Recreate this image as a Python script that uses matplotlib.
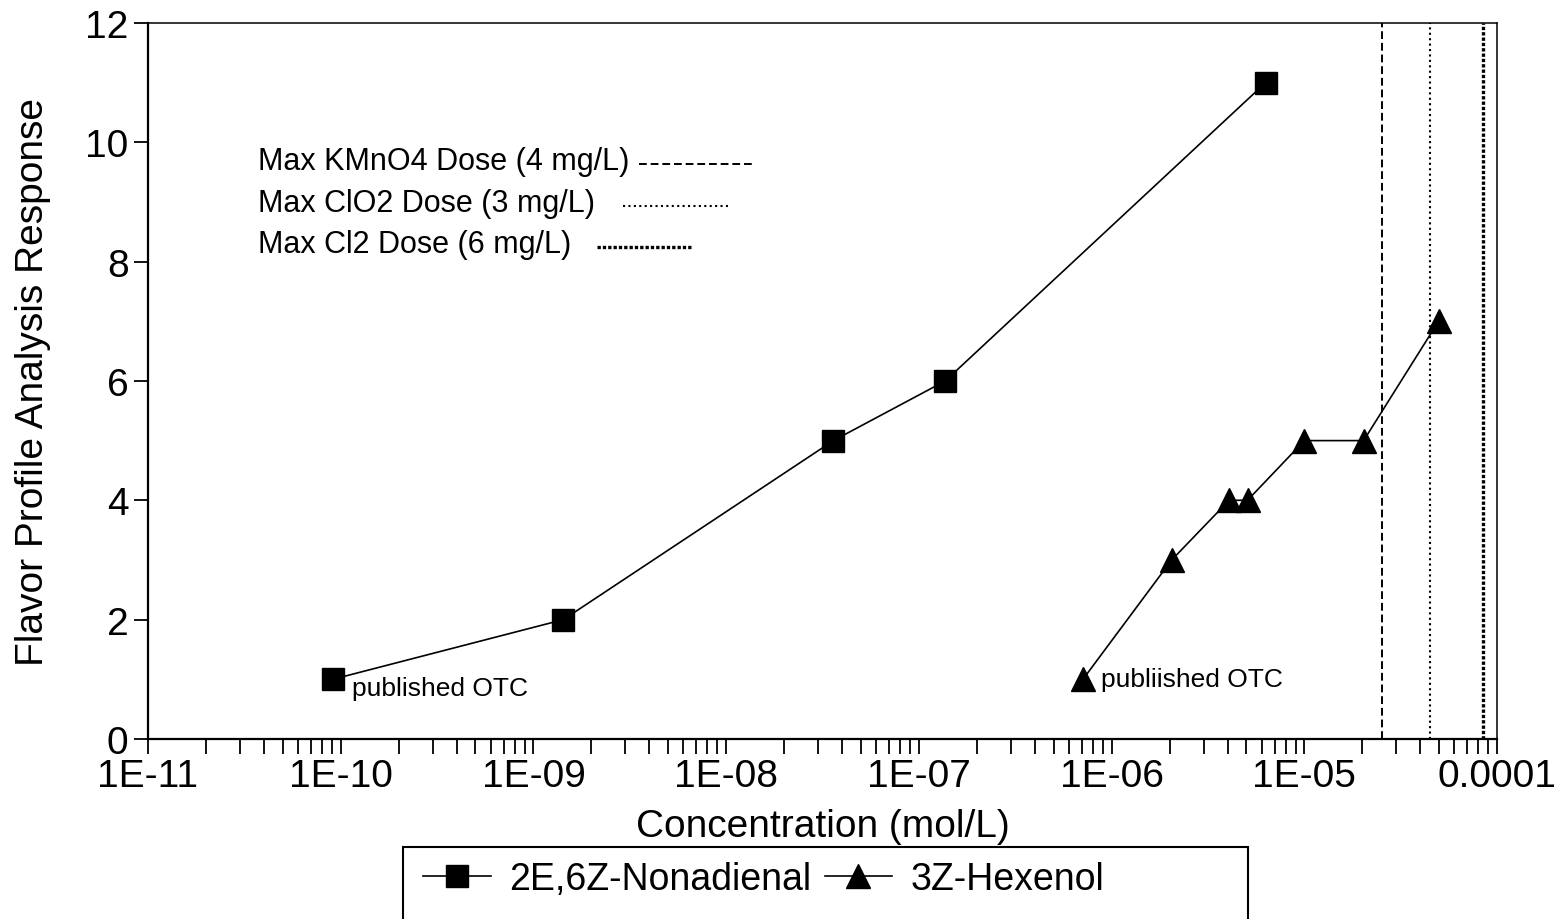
import numpy as np
import matplotlib.pyplot as plt
import matplotlib as mpl
from matplotlib.lines import Line2D
from matplotlib.patches import Rectangle

plt.rcParams['font.family'] = ['Liberation Sans', 'DejaVu Sans']

# data
nonadienal_conc = [9.1e-11, 1.43e-9, 3.6e-8, 1.37e-7, 6.3e-6]
nonadienal_fpa = [1, 2, 5, 6, 11]
hexenol_conc = [7.1e-7, 2.05e-6, 4.07e-6, 5.07e-6, 1.0e-5, 2.03e-5, 4.97e-5]
hexenol_fpa = [1, 3, 4, 4, 5, 5, 7]

dose_labels = ['Max KMnO4 Dose (4 mg/L)', 'Max ClO2 Dose (3 mg/L)', 'Max Cl2 Dose (6 mg/L)']
dose_conc = [2.52e-5, 4.5e-5, 8.43e-5]

xtick_vals = [1e-11, 1e-10, 1e-9, 1e-8, 1e-7, 1e-6, 1e-5, 1e-4]
xtick_labels = ['1E-11', '1E-10', '1E-09', '1E-08', '1E-07', '1E-06', '1E-05', '0.0001']

# line styles for the three dose markers
dose_styles = [
    dict(linestyle=(0, (4, 2)), linewidth=1.4),
    dict(linestyle=(0, (1, 1.6)), linewidth=1.5),
    dict(linestyle=(0, (1, 0.6)), linewidth=2.4),
]

fig = plt.figure(figsize=(15.66, 9.2), dpi=100)
ax = fig.add_axes([0.0945, 0.1957, 0.8615, 0.7783])

ax.plot(nonadienal_conc, nonadienal_fpa, color='black', lw=1.2,
        marker='s', ms=16, label='2E,6Z-Nonadienal')
ax.plot(hexenol_conc, hexenol_fpa, color='black', lw=1.2,
        marker='^', ms=17, label='3Z-Hexenol')

for c, st in zip(dose_conc, dose_styles):
    ax.plot([c, c], [0, 12], color='black', **st)

ax.set_xscale('log')
ax.set_xlim(1e-11, 1e-4)
ax.set_ylim(0, 12)

ax.xaxis.set_major_locator(mpl.ticker.FixedLocator(xtick_vals))
ax.xaxis.set_major_formatter(mpl.ticker.FixedFormatter(xtick_labels))
ax.xaxis.set_minor_locator(mpl.ticker.LogLocator(base=10, subs=np.arange(2, 10), numticks=20))
ax.xaxis.set_minor_formatter(mpl.ticker.NullFormatter())
ax.yaxis.set_major_locator(mpl.ticker.MultipleLocator(2))

ax.tick_params(axis='x', which='both', direction='out', length=11, width=1.3,
               labelsize=28, pad=3)
ax.tick_params(axis='y', which='major', direction='out', length=10, width=1.3,
               labelsize=28, pad=4)

for side in ['left', 'bottom']:
    ax.spines[side].set_linewidth(1.6)
for side in ['top', 'right']:
    ax.spines[side].set_linewidth(1.1)

ax.set_xlabel('Concentration (mol/L)', fontsize=28, labelpad=10)
ax.set_ylabel('Flavor Profile Analysis Response', fontsize=28)
ax.yaxis.set_label_coords(-0.072, 0.5)

# published OTC notes
ax.annotate('published OTC', xy=(nonadienal_conc[0], nonadienal_fpa[0]),
            xytext=(14, -6), textcoords='offset points', fontsize=19, va='center')
ax.annotate('publiished OTC', xy=(hexenol_conc[0], hexenol_fpa[0]),
            xytext=(13, 0), textcoords='offset points', fontsize=19, va='center')

# dose key in the upper-left
key_y = [0.807, 0.749, 0.691]
key_x = [(0.3639, 0.4492), (0.352, 0.430), (0.333, 0.404)]
for lab, y, (x0, x1), st in zip(dose_labels, key_y, key_x, dose_styles):
    ax.text(0.0815, y, lab, transform=ax.transAxes, fontsize=22, va='center')
    ax.add_line(Line2D([x0, x1], [y - 0.004, y - 0.004], transform=ax.transAxes,
                       color='black', **st))

# legend below the axes, box runs off the bottom edge
handles, labels = ax.get_legend_handles_labels()
fig.legend(handles, labels, loc='center left', bbox_to_anchor=(423 / 1566, 1 - 880 / 920),
           ncol=2, frameon=False, fontsize=27, borderpad=0, borderaxespad=0,
           handlelength=1.8, handletextpad=0.5, columnspacing=0.35)
fig.patches.append(Rectangle((403 / 1566, -0.05), (1248 - 403) / 1566, 0.05 + (920 - 848) / 920,
                             transform=fig.transFigure, fill=False, edgecolor='black', lw=1.5))

plt.savefig('out.png', dpi=100)
